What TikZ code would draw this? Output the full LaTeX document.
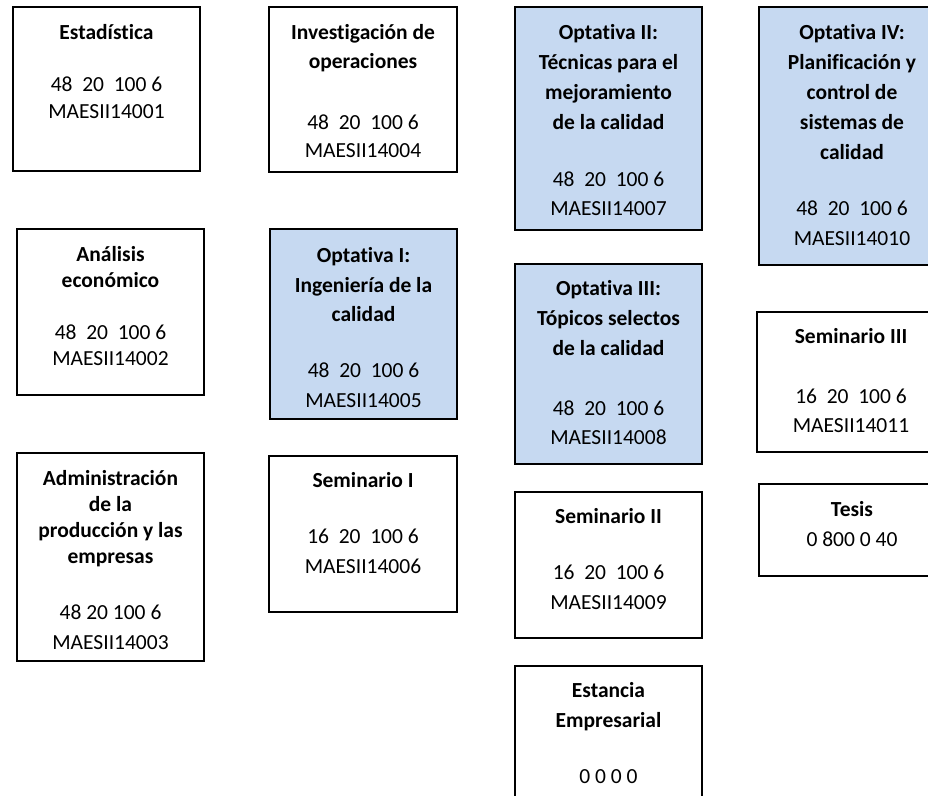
\documentclass[tikz,border=0pt]{standalone}
\usepackage{fontspec}
\setmainfont[Ligatures={NoCommon}]{Carlito}
\definecolor{optblue}{RGB}{198,217,241}
\newcommand{\mline}[4]{\node[txt] (#1) at (#2,#3) {#4};}
\newcommand{\bline}[4]{\node[txt,font=\fontsize{21.5}{26}\selectfont\bfseries] (#1) at (#2,#3) {#4};}
\begin{document}
\begin{tikzpicture}[x=1pt,y=-1pt,
  box/.style={draw=black,line width=1.6pt},
  optbox/.style={box,fill=optblue},
  txt/.style={anchor=base,inner sep=0pt,font=\fontsize{21.5}{26}\selectfont}]
\useasboundingbox (0,0) rectangle (928,795);
\clip (0,0) rectangle (928,795);
% boxes
\draw[box] (13,7) rectangle (200,171) coordinate (b1);
\draw[box] (269,7) rectangle (457,172) coordinate (b4);
\draw[optbox] (515,7) rectangle (702,230) coordinate (b7);
\draw[optbox] (759,7) rectangle (946,265) coordinate (b10);
\draw[box] (17,229) rectangle (204,395) coordinate (b2);
\draw[optbox] (270,229) rectangle (457,419) coordinate (b5);
\draw[optbox] (515,264) rectangle (702,464) coordinate (b8);
\draw[box] (757,312) rectangle (945,452) coordinate (b11);
\draw[box] (17,453) rectangle (204,661) coordinate (b3);
\draw[box] (269,456) rectangle (457,612) coordinate (b6);
\draw[box] (515,492) rectangle (702,638) coordinate (b9);
\draw[box] (759,484) rectangle (946,576) coordinate (b12);
\draw[box] (515,666) rectangle (702,810) coordinate (b13);
% Estadistica
\bline{e1}{106.5}{39}{Estadística}
\mline{e2}{106.5}{91}{48\ \ 20\ \ 100 6}
\mline{e3}{106.5}{118}{MAESII14001}
% Investigacion
\bline{i1}{363}{39}{Investigación de}
\bline{i2}{363}{68}{operaciones}
\mline{i3}{363}{129}{48\ \ 20\ \ 100 6}
\mline{i4}{363}{157}{MAESII14004}
% Analisis
\bline{a1}{110.5}{261}{Análisis}
\bline{a2}{110.5}{287}{económico}
\mline{a3}{110.5}{339}{48\ \ 20\ \ 100 6}
\mline{a4}{110.5}{365}{MAESII14002}
% Optativa I
\bline{o1a}{363.5}{262}{Optativa I:}
\bline{o1b}{363.5}{292}{Ingeniería de la}
\bline{o1c}{363.5}{321}{calidad}
\mline{o1d}{363.5}{377}{48\ \ 20\ \ 100 6}
\mline{o1e}{363.5}{407}{MAESII14005}
% Administracion
\bline{d1}{110.5}{485}{Administración}
\bline{d2}{110.5}{511}{de la}
\bline{d3}{110.5}{537}{producción y las}
\bline{d4}{110.5}{563}{empresas}
\mline{d5}{110.5}{619}{48 20 100 6}
\mline{d6}{110.5}{649}{MAESII14003}
% Seminario I
\bline{s1a}{363}{487}{Seminario I}
\mline{s1b}{363}{543}{16\ \ 20\ \ 100 6}
\mline{s1c}{363}{573}{MAESII14006}
% Optativa II
\bline{o2a}{608.5}{39}{Optativa II:}
\bline{o2b}{608.5}{69}{Técnicas para el}
\bline{o2c}{608.5}{99}{mejoramiento}
\bline{o2d}{608.5}{129}{de la calidad}
\mline{o2e}{608.5}{186}{48\ \ 20\ \ 100 6}
\mline{o2f}{608.5}{215}{MAESII14007}
% Optativa III
\bline{o3a}{608.5}{295}{Optativa III:}
\bline{o3b}{608.5}{325}{Tópicos selectos}
\bline{o3c}{608.5}{355}{de la calidad}
\mline{o3d}{608.5}{415}{48\ \ 20\ \ 100 6}
\mline{o3e}{608.5}{444}{MAESII14008}
% Seminario II
\bline{s2a}{608.5}{523}{Seminario II}
\mline{s2b}{608.5}{579}{16\ \ 20\ \ 100 6}
\mline{s2c}{608.5}{609}{MAESII14009}
% Estancia
\bline{x1}{608.5}{697}{Estancia}
\bline{x2}{608.5}{727}{Empresarial}
\mline{x3}{608.5}{783}{0 0 0 0}
% Optativa IV
\bline{o4a}{852}{39}{Optativa IV:}
\bline{o4b}{852}{69}{Planificación y}
\bline{o4c}{852}{99}{control de}
\bline{o4d}{852}{129}{sistemas de}
\bline{o4e}{852}{159}{calidad}
\mline{o4f}{852}{215}{48\ \ 20\ \ 100 6}
\mline{o4g}{852}{245}{MAESII14010}
% Seminario III
\bline{s3a}{851}{343}{Seminario III}
\mline{s3b}{851}{403}{16\ \ 20\ \ 100 6}
\mline{s3c}{851}{432}{MAESII14011}
% Tesis
\bline{t1}{852}{516}{Tesis}
\mline{t2}{852}{546}{0 800 0 40}
\end{tikzpicture}
\end{document}
